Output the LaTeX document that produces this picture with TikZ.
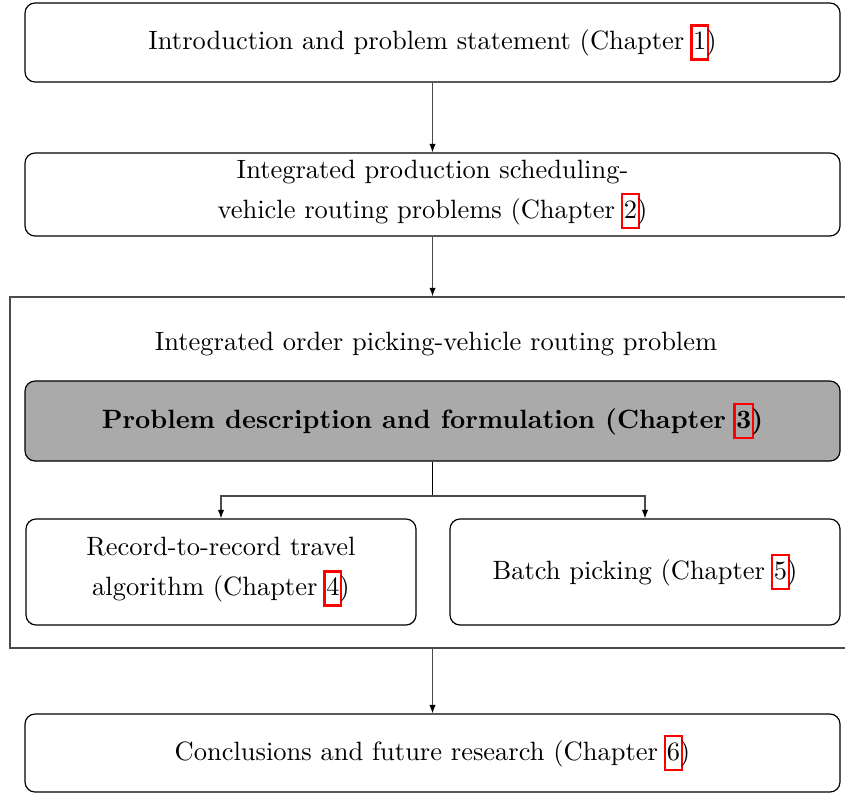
\documentclass[tikz,border=0pt]{standalone}
\usetikzlibrary{arrows.meta}
\newcommand\pxu{0.3777pt}
% chapter reference with a red link frame that takes no extra width
\newcommand\chref[1]{{\setlength\fboxrule{0.9pt}\setlength\fboxsep{0pt}%
  \hspace{-1.1pt}\textcolor{red}{\fbox{\rule[-3.3pt]{0pt}{12pt}\hspace{0.2pt}\textcolor{black}{#1}\hspace{0.2pt}}}\hspace{-1.1pt}}}
\definecolor{boxgray}{HTML}{AAAAAA}
\definecolor{linegray}{HTML}{4A4A4A}
\begin{document}
\begin{tikzpicture}[x=\pxu,y=-\pxu,
  every node/.style={font=\fontsize{10}{15.1}\selectfont},
  chbox/.style={draw=black,line width=0.45pt,rounded corners=3.8pt,align=center,inner sep=0pt},
  framebox/.style={draw=linegray,line width=0.5pt,inner sep=0pt},
  conn/.style={draw=linegray,line width=0.45pt},
  arr/.style={conn,-{Latex[length=3.2pt,width=2.4pt,color=black]}}]
\useasboundingbox (0,0) rectangle (845,793);

\node[chbox,minimum width=815*\pxu,minimum height=79*\pxu] (intro) at (432.5,42.5)
  {Introduction and problem statement (Chapter \chref{1})};
\node[chbox,minimum width=815*\pxu,minimum height=83*\pxu] (ipsvrp) at (432.5,194.5)
  {Integrated production scheduling-\\vehicle routing problems (Chapter \chref{2})};

\node[framebox,minimum width=845*\pxu,minimum height=351*\pxu] (iopvrp) at (432.5,472.5) {};
\node (iopvrptitle) at (436,344.5) {Integrated order picking-vehicle routing problem};
\node[chbox,fill=boxgray,minimum width=815*\pxu,minimum height=80*\pxu] (form) at (432.5,421)
  {\bfseries Problem description and formulation (Chapter \chref{3})};
\node[chbox,minimum width=390*\pxu,minimum height=106*\pxu] (rrt) at (221,572)
  {Record-to-record travel\\algorithm (Chapter \chref{4})};
\node[chbox,minimum width=390*\pxu,minimum height=106*\pxu] (batch) at (645,572)
  {Batch picking (Chapter \chref{5})};

\node[chbox,minimum width=815*\pxu,minimum height=78*\pxu] (concl) at (432.5,753)
  {Conclusions and future research (Chapter \chref{6})};

\coordinate (split) at (432.5,496);
\draw[arr] (intro.south) -- (ipsvrp.north);
\draw[arr] (ipsvrp.south) -- (iopvrp.north);
\draw[conn,draw=black,line width=0.6pt] (form.south) -- (split);
\draw[arr] (split) -| (rrt.north);
\draw[arr] (split) -| (batch.north);
\draw[arr] (iopvrp.south) -- (concl.north);
\end{tikzpicture}
\end{document}
